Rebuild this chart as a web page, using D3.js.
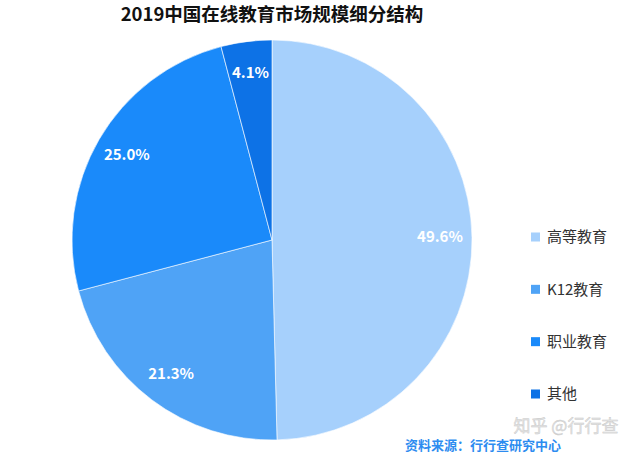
<!DOCTYPE html>
<html><head><meta charset="utf-8">
<script src="https://cdn.jsdelivr.net/npm/d3@7"></script>
<style>body{margin:0;background:#fff}svg{display:block}</style>
</head><body>
<svg id="c" width="642" height="459"></svg>
<script>
const categories = ["高等教育", "K12教育", "职业教育", "其他"];
const values = [49.6, 21.3, 25.0, 4.1];
const colors = ["#a6d0fc", "#4fa3f6", "#1a8afa", "#0d72e6"];
const title = "2019中国在线教育市场规模细分结构";
const source = "资料来源：行行查研究中心";

const svg = d3.select("#c");
const cx = 272, cy = 240, r = 200;
const font = "'Noto Sans CJK SC','Noto Sans',sans-serif";

svg.append("text").attr("x", 272).attr("y", 21).attr("text-anchor", "middle")
  .attr("font-family", font).attr("font-weight", "bold").attr("font-size", 18.5)
  .attr("fill", "#111").text(title);

const data = categories.map((c, i) => ({c, v: values[i], color: colors[i]}));
const pie = d3.pie().value(d => d.v).sort(null);
const arc = d3.arc().innerRadius(0).outerRadius(r);
const labelArc = d3.arc().innerRadius(r * 0.84).outerRadius(r * 0.84);
const g = svg.append("g").attr("transform", `translate(${cx},${cy})`);
const arcs = pie(data);
g.selectAll("path").data(arcs).join("path")
  .attr("d", arc).attr("fill", d => d.data.color)
  .attr("stroke", "#fff").attr("stroke-width", 0.6);
g.selectAll("text").data(arcs).join("text")
  .attr("transform", d => `translate(${labelArc.centroid(d)})`)
  .attr("text-anchor", "middle").attr("dy", "0.3em")
  .attr("font-family", font).attr("font-weight", "bold").attr("font-size", 15)
  .attr("fill", "#fff").text(d => d.data.v.toFixed(1) + "%");

const legend = svg.append("g");
const ly = d3.scalePoint().domain(categories).range([237, 394]);
categories.forEach((c, i) => {
  legend.append("rect").attr("x", 531).attr("y", ly(c) - 4.5).attr("width", 9).attr("height", 9)
    .attr("fill", colors[i]);
  legend.append("text").attr("x", 547).attr("y", ly(c)).attr("dy", "0.35em")
    .attr("font-family", font).attr("font-size", 15).attr("fill", "#333").text(c);
});

svg.append("text").attr("x", 566).attr("y", 432).attr("text-anchor", "middle")
  .attr("font-family", font).attr("font-size", 17).attr("fill", "#e4e4e4")
  .attr("stroke", "#c8c8c8").attr("stroke-width", 0.4).text("知乎 @行行查");
svg.append("text").attr("x", 405).attr("y", 450)
  .attr("font-family", font).attr("font-weight", "bold").attr("font-size", 13)
  .attr("fill", "#2d8cf0").text(source);
</script>
</body></html>
